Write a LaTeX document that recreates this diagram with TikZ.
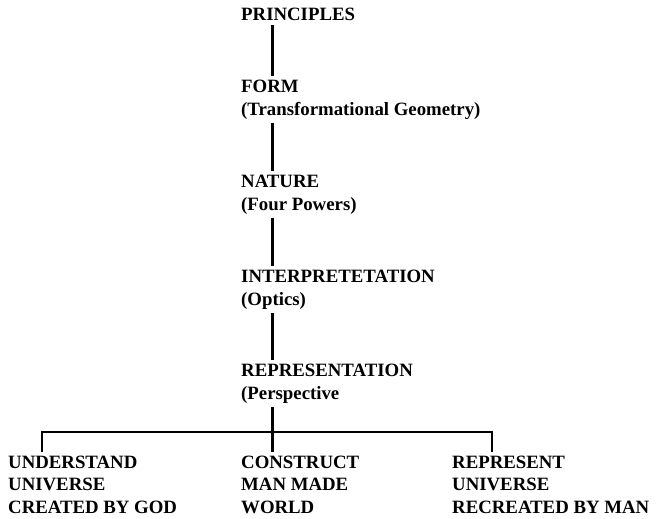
\documentclass[tikz,border=0pt]{standalone}
\usepackage{fontspec}
\setmainfont{Liberation Serif}[BoldFont={Liberation Serif Bold}]
\usetikzlibrary{positioning, calc}

\tikzset{
	lbl/.style={font=\bfseries\fontsize{18.8}{22.3}\selectfont, align=left, anchor=base west, inner sep=4pt},
	link/.style={line width=2.6pt},
}

\begin{document}
\begin{tikzpicture}[x=1pt,y=-1pt]
	\useasboundingbox (0,0) rectangle (656,519);
	\coordinate (spine) at (272.5,0);
	\coordinate (bar) at (0,432);
	% chain of levels (anchor is the baseline of the last line)
	\node[lbl] (principles) at (237,21) {PRINCIPLES};
	\node[lbl] (form) at (237,115) {FORM\\(Transformational Geometry)};
	\node[lbl] (nature) at (237,210) {NATURE\\(Four Powers)};
	\node[lbl] (interp) at (237,305) {INTERPRETETATION\\(Optics)};
	\node[lbl] (repres) at (237,399) {REPRESENTATION\\(Perspective};
	% three aims
	\node[lbl] (understand) at (4,513) {UNDERSTAND\\UNIVERSE\\CREATED BY GOD};
	\node[lbl] (construct) at (237,513) {CONSTRUCT\\MAN MADE\\WORLD};
	\node[lbl] (represent) at (448,513) {REPRESENT\\UNIVERSE\\RECREATED BY MAN};
	\draw[link] (principles.south -| spine) -- (form.north -| spine);
	\draw[link] (form.south -| spine) -- (nature.north -| spine);
	\draw[link] (nature.south -| spine) -- (interp.north -| spine);
	\draw[link] (interp.south -| spine) -- (repres.north -| spine);
	\draw[link] (repres.south -| spine) -- (construct.north -| spine);
	\draw[link] ([xshift=38]understand.north west) -- ([xshift=38]understand.north west |- bar)
		-- ([xshift=44]represent.north west |- bar) -- ([xshift=44]represent.north west);
\end{tikzpicture}
\end{document}
